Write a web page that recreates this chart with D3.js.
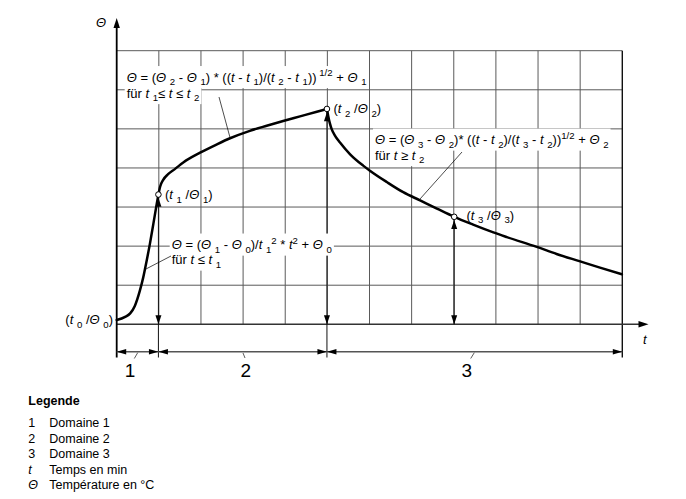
<!DOCTYPE html>
<html><head><meta charset="utf-8">
<script src="https://cdn.jsdelivr.net/npm/d3@7"></script>
<style>
body{margin:0;background:#fff}
text{font-family:"Liberation Sans",Arial,Helvetica,sans-serif;fill:#000;white-space:pre}
</style>
</head><body>
<svg id="c" width="686" height="499"></svg>
<script>
// ---- data (grid units: t in columns, Θ in rows) ----
const gridCols = d3.range(0, 13);      // 12 time divisions
const gridRows = d3.range(0, 8);       // 7 temperature divisions
const keyT = [0.99, 4.99, 8.01];       // t1, t2, t3
const keyV = [3.32, 5.51, 2.75];       // Θ1, Θ2, Θ3
const seg1 = [[0,0.11],[0.2,0.19],[0.32,0.28],[0.43,0.47],[0.55,0.86],[0.63,1.20],[0.71,1.62],[0.79,2.07],[0.87,2.57],[0.95,3.08],[0.99,3.32]];
const seg2 = [[0.99,3.32],[1.03,3.52],[1.1,3.69],[1.22,3.84],[1.38,3.97],[1.58,4.14],[1.98,4.39],[2.37,4.60],[2.69,4.76],[3.16,4.95],[3.56,5.08],[3.95,5.20],[4.35,5.32],[4.75,5.44],[4.99,5.51]];
const seg3 = [[4.99,5.51],[5.02,5.33],[5.06,5.14],[5.10,5.00],[5.18,4.83],[5.30,4.65],[5.54,4.35],[5.85,4.06],[6.01,3.93],[6.41,3.64],[6.80,3.38],[7.20,3.17],[7.60,2.96],[8.01,2.75],[8.46,2.55],[8.94,2.35],[9.26,2.23],[9.97,1.98],[10.44,1.80],[11.0,1.61],[11.47,1.45],[11.99,1.28]];
const domainLabels = ["1","2","3"];
const legendKeys = [["1",""],["2",""],["3",""],["t","i"],["Θ","i"]];
const legendTexts = ["Domaine 1","Domaine 2","Domaine 3","Temps en min","Température en °C"];

// ---- layout ----
const svg = d3.select("#c");
const x = d3.scaleLinear().domain([0,12]).range([116.7,622.3]);
const y = d3.scaleLinear().domain([0,7]).range([324.3,50.7]);
const dimY = 351.7, extBottom = 357.5;

const gGrid = svg.append("g"), gLines = svg.append("g"), gBg = svg.append("g"),
      gText = svg.append("g"), gCurve = svg.append("g");

// grid
gGrid.selectAll("line.v").data(gridCols.slice(1,-1)).join("line")
  .attr("x1",d=>x(d)).attr("x2",d=>x(d)).attr("y1",y(7)).attr("y2",y(0))
  .attr("stroke","#5a5a5a").attr("stroke-width",1);
gGrid.selectAll("line.h").data(gridRows.slice(1)).join("line")
  .attr("x1",x(0)).attr("x2",x(12)).attr("y1",d=>y(d)).attr("y2",d=>y(d))
  .attr("stroke","#5a5a5a").attr("stroke-width",1);
gGrid.append("line").attr("x1",x(12)).attr("x2",x(12)).attr("y1",y(7)).attr("y2",extBottom)
  .attr("stroke","#111").attr("stroke-width",1.4);

function tri(g, tipX, tipY, dir, len=9, half=3) {
  let p;
  if (dir==="up") p=[[tipX,tipY],[tipX-half,tipY+len],[tipX+half,tipY+len]];
  if (dir==="down") p=[[tipX,tipY],[tipX-half,tipY-len],[tipX+half,tipY-len]];
  if (dir==="left") p=[[tipX,tipY],[tipX+len,tipY-half],[tipX+len,tipY+half]];
  if (dir==="right") p=[[tipX,tipY],[tipX-len,tipY-half],[tipX-len,tipY+half]];
  g.append("path").attr("d","M"+p.join("L")+"Z").attr("fill","#000");
}

// axes
gLines.append("line").attr("x1",x(0)).attr("x2",641).attr("y1",y(0)).attr("y2",y(0))
  .attr("stroke","#333").attr("stroke-width",1.5);
tri(gLines, 648.5, y(0), "right", 10, 3.2);
gLines.append("line").attr("x1",x(0)).attr("x2",x(0)).attr("y1",extBottom).attr("y2",26)
  .attr("stroke","#000").attr("stroke-width",1.8);
tri(gLines, x(0), 18, "up", 10, 3.2);

// vertical key arrows
keyT.forEach((t,i)=>{
  const bottom = i<2 ? extBottom : y(0);
  gLines.append("line").attr("x1",x(t)).attr("x2",x(t)).attr("y1",y(keyV[i])+3).attr("y2",bottom)
    .attr("stroke","#111").attr("stroke-width",1);
  tri(gLines, x(t), y(keyV[i])+3.2, "up", 9, 3);
  tri(gLines, x(t), y(0), "down", 9, 3);
});

// dimension line
gLines.append("line").attr("x1",x(0)).attr("x2",x(12)).attr("y1",dimY).attr("y2",dimY)
  .attr("stroke","#555").attr("stroke-width",1.4);
const bounds = [0, keyT[0], keyT[1], 12];
for (let i=0;i<3;i++){
  tri(gLines, x(bounds[i]), dimY, "left", 9.5, 2.8);
  tri(gLines, x(bounds[i+1]), dimY, "right", 9.5, 2.8);
}
const labX = [130, 245.7, 466.7];
const leaders = [[134.3,358.5,137.7,352.7],[245,358,243,353],[470.7,358.5,474.3,352.7]];
domainLabels.forEach((d,i)=>{
  gText.append("text").attr("x",labX[i]).attr("y",376.5).attr("text-anchor","middle")
    .style("font-size","19px").text(d);
  const l = leaders[i];
  gLines.append("line").attr("x1",l[0]).attr("y1",l[1]).attr("x2",l[2]).attr("y2",l[3])
    .attr("stroke","#333").attr("stroke-width",0.8);
});

// rich text helper
function rich(g, px, py, parts, fs, anchor) {
  const t = g.append("text").attr("x",px).attr("y",py).style("font-size",fs+"px");
  if (anchor) t.attr("text-anchor",anchor);
  let shift = 0;
  parts.forEach(p=>{
    const [s,k] = typeof p==="string" ? [p,""] : p;
    const target = k.includes("_") ? fs*0.28 : k.includes("^") ? -fs*0.42 : 0;
    const ts = t.append("tspan").text(s).attr("dy", target-shift);
    shift = target;
    if (k.includes("_")||k.includes("^")) ts.style("font-size",(fs*0.74)+"px");
    if (k.includes("i")) ts.style("font-style","italic");
  });
  return t;
}
function boxed(px, py, parts, fs, padX=2, padY=1) {
  const t = rich(gText, px, py, parts, fs);
  const b = t.node().getBBox();
  gBg.append("rect").attr("x",b.x-padX).attr("y",b.y-padY).attr("width",b.width+2*padX)
    .attr("height",b.height+2*padY).attr("fill","#fff");
  return t;
}
const Th = ["Θ","i"], T = ["t","i"], s = n => [n,"_"];
const FS = 13;

// formula domain 2
boxed(126.7, 81.5, [Th," = (",Th," ",s("2")," - ",Th," ",s("1"),") * ((",T," - ",T," ",s("1"),")/(",T," ",s("2")," - ",T," ",s("1"),"))",[" 1/2","^"]," + ",Th," ",s("1")], FS);
boxed(126.7, 97.5, ["für ",T," ",s("1"),"≤ ",T," ≤ ",T," ",s("2")], FS);
// formula domain 3
boxed(375, 144, [Th," = (",Th," ",s("3")," - ",Th," ",s("2"),")* ((",T," - ",T," ",s("2"),")/(",T," ",s("3")," - ",T," ",s("2"),"))",["1/2","^"]," + ",Th," ",s("2")], FS);
boxed(375, 159.5, ["für ",T," ≥ ",T," ",s("2")], FS);
// formula domain 1
boxed(171.7, 249, [Th," = (",Th," ",s("1")," - ",Th," ",s("0"),")/",T," ",s("1"),["2","^"]," * ",T,["2","^"]," + ",Th," ",s("0")], FS);
boxed(171.7, 264, ["für ",T," ≤ ",T," ",s("1")], FS);

// point labels
rich(gText, 165, 199, ["(",T," ",s("1")," /",Th," ",s("1"),")"], FS);
rich(gText, 333.5, 113, ["(",T," ",s("2")," /",Th," ",s("2"),")"], FS);
rich(gText, 466.5, 219.5, ["(",T," ",s("3")," /",Th," ",s("3"),")"], FS);
rich(gText, 113, 324, ["(",T," ",s("0")," /",Th," ",s("0"),")"], FS, "end");

// axis labels
gText.append("text").attr("x",96).attr("y",27).style("font-size","13px").style("font-style","italic").text("Θ");
gText.append("text").attr("x",643).attr("y",344).style("font-size","13px").style("font-style","italic").text("t");

// leader lines
[[219,97,230,137.5],[462,152,420,199],[171,256,145,269.5]].forEach(l=>{
  gCurve.append("line").attr("x1",l[0]).attr("y1",l[1]).attr("x2",l[2]).attr("y2",l[3])
    .attr("stroke","#000").attr("stroke-width",0.7);
});

// curve
const line = d3.line().x(d=>x(d[0])).y(d=>y(d[1])).curve(d3.curveMonotoneX);
[seg1,seg2,seg3].forEach(seg=>{
  gCurve.append("path").attr("d",line(seg)).attr("fill","none").attr("stroke","#000")
    .attr("stroke-width",2.5).attr("stroke-linecap","round").attr("stroke-linejoin","round");
});
keyT.forEach((t,i)=>{
  gCurve.append("circle").attr("cx",x(t)).attr("cy",y(keyV[i])).attr("r",2.8)
    .attr("fill","#fff").attr("stroke","#000").attr("stroke-width",1);
});

// legend
const gLeg = svg.append("g");
gLeg.append("text").attr("x",28.3).attr("y",405).style("font-size","12.5px").style("font-weight","bold").text("Legende");
legendKeys.forEach((k,i)=>{
  const yy = 427 + i*15.5;
  gLeg.append("text").attr("x",28.3).attr("y",yy).style("font-size","12.5px")
    .style("font-style",k[1]==="i"?"italic":"normal").text(k[0]);
  gLeg.append("text").attr("x",49.3).attr("y",yy).style("font-size","12.5px").text(legendTexts[i]);
});
</script>
</body></html>
